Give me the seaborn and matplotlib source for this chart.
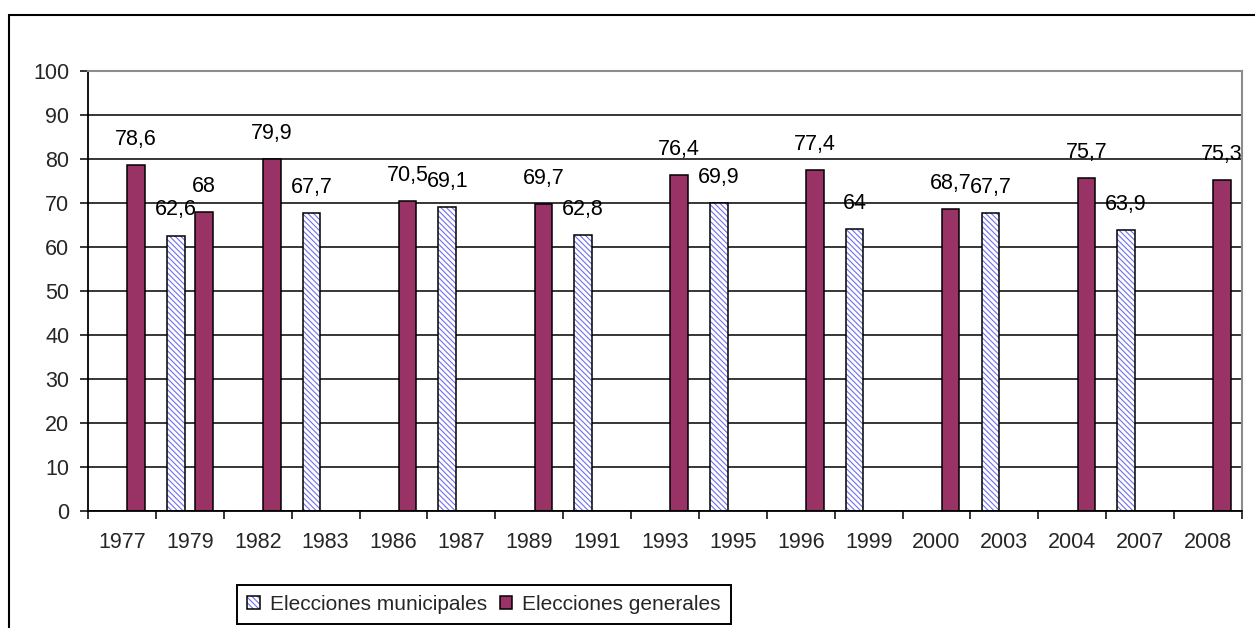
import numpy as np
import pandas as pd
import matplotlib
matplotlib.use("Agg")
import matplotlib.pyplot as plt
import matplotlib.transforms as mtransforms
import seaborn as sns
from matplotlib.patches import Patch, Rectangle
from matplotlib.legend_handler import HandlerTuple

# ---------------- data ----------------
years = ["1977", "1979", "1982", "1983", "1986", "1987", "1989", "1991", "1993",
         "1995", "1996", "1999", "2000", "2003", "2004", "2007", "2008"]
municipales = [None, 62.6, None, 67.7, None, 69.1, None, 62.8, None,
               69.9, None, 64.0, None, 67.7, None, 63.9, None]
generales = [78.6, 68.0, 79.9, None, 70.5, None, 69.7, None, 76.4,
             None, 77.4, None, 68.7, None, 75.7, None, 75.3]
series_names = ["Elecciones municipales", "Elecciones generales"]
y_ticks = list(range(0, 101, 10))

rows = []
for yr, m, g in zip(years, municipales, generales):
    if m is not None:
        rows.append((yr, series_names[0], m))
    if g is not None:
        rows.append((yr, series_names[1], g))
df = pd.DataFrame(rows, columns=["year", "serie", "value"])

# ---------------- style ----------------
sns.set_style("white")
plt.rcParams["font.family"] = ["Liberation Sans", "DejaVu Sans"]
plt.rcParams["hatch.linewidth"] = 0.8

MAROON = "#993366"
HATCH_C = "#6f6ff0"
HATCH = "\\" * 6
FS = 15.5
FS_LEG = 15

W, H = 1255, 628
fig = plt.figure(figsize=(W / 100, H / 100), dpi=100)
ax = fig.add_axes([88 / W, 1 - 511 / H, (1242 - 88) / W, (511 - 71) / H])

sns.barplot(data=df, x="year", y="value", hue="serie", order=years,
            hue_order=series_names,
            palette={series_names[0]: "white", series_names[1]: MAROON},
            saturation=1, width=0.83, gap=0.375, edgecolor="black",
            linewidth=1.1, errorbar=None, legend=False, ax=ax)

# hatch the municipal bars (blue stripes, black outline)
for bar in ax.containers[0]:
    bar.set_hatch(HATCH)
    bar.set_edgecolor(HATCH_C)
    bar.set_linewidth(0)
    ax.add_patch(Rectangle((bar.get_x(), bar.get_y()), bar.get_width(),
                           bar.get_height(), fill=False, ec="black", lw=1.1,
                           zorder=bar.get_zorder() + 0.1))

# value labels
trans = mtransforms.offset_copy(ax.transData, fig=fig, x=0, y=14.5, units="points")
for cont in ax.containers:
    for bar, v in zip(cont, cont.datavalues):
        txt = f"{v:g}".replace(".", ",")
        ax.text(bar.get_x() + bar.get_width() / 2, bar.get_height(), txt,
                transform=trans, ha="center", va="baseline", fontsize=FS,
                color="black", clip_on=True, zorder=1)

# axes
ax.set_xlim(-0.5, len(years) - 0.5)
ax.set_ylim(0, 100)
ax.set_yticks(y_ticks)
ax.set_xlabel("")
ax.set_ylabel("")
ax.set_axisbelow(True)
ax.yaxis.grid(True, color="black", linewidth=1.1)
ax.xaxis.grid(False)
ax.get_ygridlines()[-1].set_visible(False)

ax.set_xticks(np.arange(-0.5, len(years), 1.0), minor=True)
ax.tick_params(axis="x", which="major", length=0, pad=15, labelsize=FS)
ax.tick_params(axis="x", which="minor", length=6, width=1.1, color="black",
               direction="out", bottom=True)
ax.tick_params(axis="y", which="major", length=6, width=1.1, color="black",
               direction="out", left=True, pad=7.5, labelsize=FS)

for side in ["left", "bottom"]:
    ax.spines[side].set_color("black")
    ax.spines[side].set_linewidth(1.3)
for side in ["top", "right"]:
    ax.spines[side].set_visible(True)
    ax.spines[side].set_color("#8c8c8c")
    ax.spines[side].set_linewidth(1.5)

# legend
h_mun = (Patch(facecolor="white", edgecolor=HATCH_C, hatch=HATCH, lw=0),
         Patch(fill=False, edgecolor="black", lw=1.1))
h_gen = Patch(facecolor=MAROON, edgecolor="black", lw=1.1)
leg = fig.legend([h_mun, h_gen], series_names, ncol=2,
                 handler_map={tuple: HandlerTuple(ndivide=1, pad=0)},
                 loc="center", bbox_to_anchor=(484 / W, 1 - 604.5 / H),
                 fontsize=FS_LEG, frameon=True, fancybox=False, framealpha=1,
                 edgecolor="black", handlelength=0.6, handleheight=0.6,
                 handletextpad=0.5, columnspacing=0.6, borderpad=0.5,
                 borderaxespad=0)
leg.get_frame().set_linewidth(1.4)

# outer chart border (continues beyond the image on the right and bottom)
fig.add_artist(Rectangle((9 / W, -0.2), 1.2, 1 - 15 / H + 0.2, fill=False,
                         ec="black", lw=1.5, transform=fig.transFigure))

fig.savefig("out.png", dpi=100)
